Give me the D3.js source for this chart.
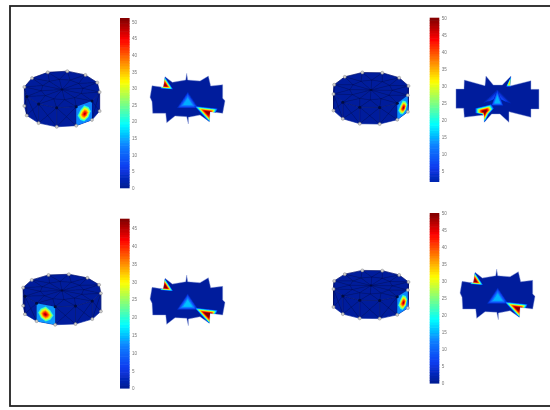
<!DOCTYPE html>
<html><head><meta charset="utf-8">
<script src="https://cdn.jsdelivr.net/npm/d3@7"></script>
<style>html,body{margin:0;padding:0;background:#fff}svg{display:block}</style>
</head><body><svg id="c" width="550" height="410"></svg>
<script>
// one entry per panel
const panelNames = ["a","b","c","d"];
const barMin = [0, 1.85, 0, 0];
const barMax = [51, 50, 47.6, 50];
const barTicks = [
  [0,5,10,15,20,25,30,35,40,45,50],
  [5,10,15,20,25,30,35,40,45,50],
  [0,5,10,15,20,25,30,35,40,45],
  [0,5,10,15,20,25,30,35,40,45,50]
];
const hotFace = [38, 17, 100, 17];      // start angle of the heated side face
const ringStart = [8, 17, 10, 17];      // angle of the first ring node
const hotPeak = [50, 50, 47.6, 50];

// flat (unfolded) view, in unfolded-sheet units
const sheetA = [[-107,-43],[-73,-38],[-68,-70],[-46,-53],[-6,-60],[-3,-80],[0,-60],[37,-57],[62,-72],[69,-42],[105,-46],[105,-5],[112,2],[105,40],[67,35],[65,65],[37,45],[2,52],[2,72],[-3,50],[-38,48],[-63,68],[-66,40],[-105,40],[-107,5],[-113,-8]];
const sheetB = [[-124,-30],[-100,-30],[-99,-57],[-37,-40],[-34,-69],[-12,-42],[15,-42],[41,-69],[38,-39],[101,-55],[101,-29],[125,-29],[125,30],[101,30],[101,55],[35,38],[35,70],[8,45],[-17,45],[-39,70],[-40,48],[-99,55],[-101,28],[-124,28]];
const sheets = [sheetA, sheetB, sheetA, sheetA];
const blobsA = [
  {poly:[[-32,24],[0,-24],[32,24]], peak:[0,8], v:15},
  {poly:[[-70,-72],[-44,-32],[-82,-35]], peak:[-68,-44], v:50},
  {poly:[[20,18],[90,26],[68,70]], peak:[60,38], v:50}
];
const blobsB = [
  {poly:[[-42,12],[0,-28],[42,14],[0,-6]], peak:[0,0], v:7},
  {poly:[[0,-28],[-18,20],[18,20]], peak:[0,6], v:16},
  {poly:[[42,-70],[27,-37],[41,-37]], peak:[36,-46], v:34},
  {poly:[[-66,28],[-18,16],[-10,28],[-26,46],[-39,72],[-45,46],[-66,42]], peak:[-38,38], v:50}
];
const blobs = [blobsA, blobsB, blobsA, blobsA];
const sheetBands = [3,5,7,9,11,13,15,18,21,24,27,30,33,36,39,42,45,48,50];
const faceBands = [20,24,28,32,36,40,44,48,50];

// geometry of each panel on the page
const cylCx = [62, 371, 62, 371], cylCy = [89.5, 90, 290.5, 285.5];
const cylRx = [38, 38.5, 39.5, 38.5], cylRy = [18.5, 18, 16.5, 15.5], cylH = [19, 16.5, 18, 18];
const barX = [120, 429.7, 120, 429.7], barTop = [18.3, 18, 219, 213.3], barBot = [188, 181.7, 388.3, 383.3];
const sheetCx = [187.7, 497.3, 187.7, 497.7], sheetCy = [100, 99, 301.7, 295.7];

const jetStops = ["#03198f","#0a3cf0","#0a80ff","#00ffff","#7fff7f","#ffff00","#ff7f00","#ff0000","#7f0000"];
const baseBlue = "#041f9c";

const svg = d3.select("#c");
const defs = svg.append("defs");
const blur = (id,sd) => defs.append("filter").attr("id",id).attr("x","-15%").attr("y","-15%").attr("width","130%").attr("height","130%")
  .append("feGaussianBlur").attr("stdDeviation",sd);
blur("soft",.5); blur("softer",.3); blur("heat",.35);

svg.append("rect").attr("x",10).attr("y",6).attr("width",560).attr("height",400)
  .attr("fill","#fff").attr("stroke","#222").attr("stroke-width",1.8);

const line = d3.line();
panelNames.forEach((name,p) => {
  const jet = d3.scaleLinear()
    .domain(d3.range(jetStops.length).map(i => i/(jetStops.length-1)*barMax[p]))
    .range(jetStops).interpolate(d3.interpolateRgb).clamp(true);
  const g = svg.append("g").attr("filter","url(#soft)").attr("data-panel",name);

  // ---- cylinder
  const px = d3.scaleLinear().domain([-1,1]).range([cylCx[p]-cylRx[p], cylCx[p]+cylRx[p]]);
  const py = d3.scaleLinear().domain([-1,1]).range([cylCy[p]-cylRy[p], cylCy[p]+cylRy[p]]);
  const pz = d3.scaleLinear().domain([0,1]).range([0, cylH[p]]);
  const rad = d => d*Math.PI/180;
  const P = (a,r,z) => [px(r*Math.cos(rad(a))), py(r*Math.sin(rad(a)))+pz(z)];
  const angles = d3.range(12).map(i => ringStart[p]+30*i);

  const cyl = g.append("g");
  angles.forEach(a => {
    if (Math.sin(rad(a+15)) < -0.05) return;
    const q = [P(a,1,0),P(a+30,1,0),P(a+30,1,1),P(a,1,1)];
    cyl.append("path").attr("d",line(q)+"Z").attr("fill",baseBlue).attr("stroke",baseBlue).attr("stroke-width",.6);
  });
  cyl.append("path").attr("d",line(angles.map(a=>P(a,1,0)))+"Z").attr("fill",baseBlue).attr("stroke",baseBlue).attr("stroke-width",.4);

  // mesh lines
  const mesh = g.append("g").attr("stroke","#020a50").attr("stroke-width",.45).attr("fill","none");
  angles.forEach(a => {
    mesh.append("path").attr("d",line([P(0,0,0),P(a+15,.55,0)]));
    mesh.append("path").attr("d",line([P(a+15,.55,0),P(a,1,0)]));
    mesh.append("path").attr("d",line([P(a+15,.55,0),P(a+30,1,0)]));
    mesh.append("path").attr("d",line([P(a+15,.55,0),P(a+45,.55,0)]));
    mesh.append("path").attr("d",line([P(a,1,0),P(a+30,1,0)]));
    if (Math.sin(rad(a+15)) > -0.05) {
      mesh.append("path").attr("d",line([P(a,1,0),P(a+30,1,1)]));
      mesh.append("path").attr("d",line([P(a+30,1,0),P(a,1,1)]));
    }
    if (Math.sin(rad(a)) > -0.05) mesh.append("path").attr("d",line([P(a,1,0),P(a,1,1)]));
  });

  // heated side face, nested bands towards its middle
  const a0 = hotFace[p], a1 = a0+30;
  const corners = [P(a0,1,0),P(a1,1,0),P(a1,1,1),P(a0,1,1)];
  const mid = P(a0+15,1,.5);
  const ring8 = d3.range(4).flatMap(i => {
    const c = corners[i], n = corners[(i+1)%4];
    return [c, [(c[0]+n[0])/2,(c[1]+n[1])/2]];
  });
  const pinch = [.62,1,.62,1,.62,1,.62,1];
  g.append("path").attr("d",line(corners)+"Z").attr("fill",jet(13));
  faceBands.forEach(v => {
    const t = Math.pow(1-(v-14)/(hotPeak[p]-14+1.5),.85)*.98;
    const poly = ring8.map((e,i)=>[mid[0]+(e[0]-mid[0])*t*pinch[i], mid[1]+(e[1]-mid[1])*t*pinch[i]]);
    g.append("path").attr("d",line(poly)+"Z").attr("fill",jet(v));
  });

  // nodes
  const nodes = g.append("g");
  const grey = c => nodes.append("circle").attr("cx",c[0]).attr("cy",c[1]).attr("r",1.5).attr("fill","#cfcfcf").attr("stroke","#7a7a7a").attr("stroke-width",.45);
  angles.forEach(a => {
    const s = Math.sin(rad(a));
    const c = P(a,1,0);
    if (s <= 0.3) grey(c);
    else nodes.append("circle").attr("cx",c[0]).attr("cy",c[1]).attr("r",1.5).attr("fill","#030a40");
    if (s >= -0.2) grey(P(a,1,1));
  });
  const cc = P(0,0,0);
  nodes.append("circle").attr("cx",cc[0]).attr("cy",cc[1]).attr("r",1.1).attr("fill","#030a40");

  // ---- colour bar
  const by = d3.scaleLinear().domain([barMin[p],barMax[p]]).range([barBot[p],barTop[p]]);
  const steps = d3.range(64).map(i => barMin[p]+(barMax[p]-barMin[p])*i/64);
  const stepH = (barBot[p]-barTop[p])/64;
  g.append("g").selectAll("rect").data(steps).join("rect")
    .attr("x",barX[p]).attr("width",9.6)
    .attr("y",d=>by(d)-stepH-.3).attr("height",stepH+.6)
    .attr("fill",d=>jet(d+(barMax[p]-barMin[p])/128));
  const axis = d3.axisRight(by).tickValues(barTicks[p]).tickSize(0).tickPadding(2.4);
  const ax = svg.append("g").attr("filter","url(#softer)").attr("transform",`translate(${barX[p]+9.6},0)`).call(axis);
  ax.select(".domain").remove();
  ax.selectAll("text").attr("font-family","Liberation Sans, sans-serif").attr("font-size",4.6).attr("fill","#777");

  // ---- unfolded sheet
  const sx = d3.scaleLinear().domain([-120,120]).range([sheetCx[p]-40,sheetCx[p]+40]);
  const sy = d3.scaleLinear().domain([-120,120]).range([sheetCy[p]-40,sheetCy[p]+40]);
  const sp = d => [sx(d[0]),sy(d[1])];
  const s = g.append("g");
  const clipId = "sheet"+p;
  defs.append("clipPath").attr("id",clipId).append("path").attr("d",line(sheets[p].map(sp))+"Z");
  s.append("path").attr("d",line(sheets[p].map(sp))+"Z").attr("fill",baseBlue).attr("stroke","#8ea0dc").attr("stroke-width",.4);
  const inner = s.append("g").attr("clip-path",`url(#${clipId})`).append("g").attr("filter","url(#heat)");
  blobs[p].forEach(b => {
    sheetBands.filter(v=>v<=b.v).forEach(v => {
      const t = Math.pow(1-(v-3)/(b.v-3+4),.6);
      const poly = b.poly.map(c=>sp([b.peak[0]+(c[0]-b.peak[0])*t, b.peak[1]+(c[1]-b.peak[1])*t]));
      inner.append("path").attr("d",line(poly)+"Z").attr("fill",jet(v));
    });
  });
});
</script></body></html>
